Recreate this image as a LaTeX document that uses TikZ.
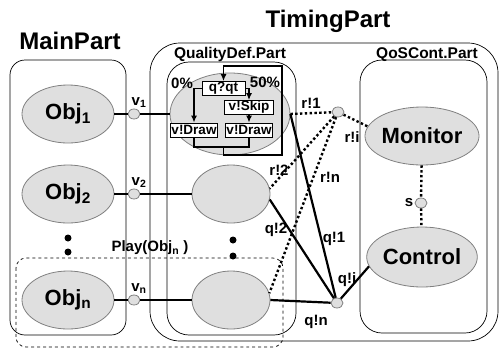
\documentclass[tikz,border=0pt]{standalone}
\usepackage{fontspec}
\setmainfont{Liberation Sans}
\usetikzlibrary{shapes.geometric, arrows.meta, positioning}
\newcommand{\fsz}[1]{\fontsize{#1}{#1}\selectfont\bfseries}

\begin{document}
\begin{tikzpicture}[
        x=1bp, y=-1bp,
        partbox/.style={draw, line width=0.7bp, rounded corners=#1},
        obj/.style={ellipse, draw=gray, fill=gray!25, line width=0.8bp, minimum width=92bp, minimum height=58bp, inner sep=0pt, font=\fsz{22bp}},
        subobj/.style={obj, minimum width=78bp, minimum height=58bp},
        port/.style={ellipse, draw=gray, fill=gray!25, line width=0.8bp, minimum width=12bp, minimum height=10bp, inner sep=0pt},
        act/.style={draw, fill=white, line width=0.8bp, minimum height=14bp, inner sep=0pt, font=\fsz{13.5bp}},
        lbl/.style={inner sep=0pt, font=\fsz{15bp}},
        title/.style={inner sep=0pt, anchor=base, font=\fsz{24bp}},
        plabel/.style={inner sep=0pt, anchor=base, font=\fsz{15.5bp}},
        wire/.style={line width=2.2bp},
        msg/.style={line width=2.4bp, dash pattern=on 2.4bp off 2.4bp},
        flow/.style={line width=1.4bp, -{Latex[length=7bp,width=6bp]}},
        bigdot/.style={circle, fill=black, inner sep=0pt, minimum size=7bp}
    ]
        \useasboundingbox (0,0) rectangle (501,349);

        \draw[partbox=15bp] (10,60) rectangle (126,335);
        \draw[partbox=30bp] (150,43) rectangle (498,341);
        \draw[partbox=22bp] (167,62) rectangle (296,335);
        \draw[partbox=22bp] (360,60) rectangle (487,333);
        \draw[line width=0.7bp, dashed, rounded corners=10bp] (16,258) rectangle (283,347);

        \node[title] (mainT) at (70,49) {MainPart};
        \node[title] (timT) at (328,27) {TimingPart};
        \node[plabel] (qdT) at (230,58) {QualityDef.Part};
        \node[plabel] (qosT) at (427,58) {QoSCont.Part};

        \node[obj] (obj1) at (68,114) {Obj\textsubscript{1}};
        \node[obj] (obj2) at (68,194) {Obj\textsubscript{2}};
        \node[obj] (objn) at (68,300) {Obj\textsubscript{n}};
        \node[bigdot] (od1) at (68,238) {};
        \node[bigdot] (od2) at (68,252) {};

        \node[port] (v1) at (134,114) {};
        \node[port] (v2) at (134,194) {};
        \node[port] (vn) at (134,300) {};
        \node[lbl, anchor=base] (v1l) at (139,105) {v\textsubscript{1}};
        \node[lbl, anchor=base] (v2l) at (139,185) {v\textsubscript{2}};
        \node[lbl, anchor=base] (vnl) at (139,291) {v\textsubscript{n}};
        \node[lbl] (play) at (150,248) {Play(Obj\textsubscript{n} )};

        \node[obj, minimum width=120bp, minimum height=82bp] (qd1) at (230,114) {};
        \node[subobj] (qd2) at (231,194) {};
        \node[subobj] (qdn) at (231,300) {};
        \node[bigdot] (qdd1) at (233,240) {};
        \node[bigdot] (qdd2) at (233,256) {};

        \draw[wire] (obj1) -- (v1) (v1) -- (qd1);
        \draw[wire] (obj2) -- (v2) (v2) -- (qd2);
        \draw[wire] (objn) -- (vn) (vn) -- (qdn);

        \node[act, minimum width=43bp] (qqt) at (223.5,88.5) {q?qt};
        \node[act, minimum width=49bp] (skip) at (249,107.5) {v!Skip};
        \node[act, minimum width=47bp] (drawL) at (194,130) {v!Draw};
        \node[act, minimum width=47bp] (drawR) at (249,130) {v!Draw};
        \node[lbl] (p0) at (182,83) {0\%};
        \node[lbl] (p50) at (265,82) {50\%};

        \coordinate (jn) at (223.5,147);
        \coordinate (lpA) at (223.5,155);
        \coordinate (lpB) at (282,155);
        \coordinate (lpC) at (282,66);
        \coordinate (lpD) at (223.5,66);
        \draw[flow] (qqt.west) -| (drawL.north);
        \draw[flow] (qqt.east) -| (skip.north);
        \draw[flow] (skip) -- (drawR);
        \draw[line width=1.4bp] (drawL.south) |- (jn) -| (drawR.south);
        \draw[flow] (jn) -- (lpA) -- (lpB) -- (lpC) -- (lpD) -- (qqt.north);

        \node[port] (rp) at (338,112) {};
        \node[port] (qp) at (337,303) {};
        \node[obj, minimum width=110bp, minimum height=58bp] (mon) at (422,136) {Monitor};
        \node[obj, minimum width=110bp, minimum height=60bp] (ctl) at (422,257) {Control};
        \node[port] (sp) at (421,203) {};
        \node[lbl] (sl) at (409,203) {s};

        \draw[msg] (qd1.east) -- node[lbl, pos=0.5, above=3bp] {r!1} (rp);
        \draw[msg] (rp) -- (mon.170);
        \draw[msg] (rp) -- (qd2.8);
        \draw[msg] (rp) -- (qdn.10);
        \draw[msg] (mon) -- (sp);
        \draw[msg] (sp) -- (ctl);
        \draw[wire] (qd1.east) -- (qp);
        \draw[wire] (qd2.-8) -- (qp);
        \draw[wire] (qdn.east) -- (qp);
        \draw[wire] (qp) -- (ctl.190);

        \node[lbl] (ril) at (352,137) {r!i};
        \node[lbl] (r2l) at (279,170) {r!2};
        \node[lbl] (rnl) at (330,177) {r!n};
        \node[lbl] (q1l) at (334,239) {q!1};
        \node[lbl] (q2l) at (276,230) {q!2};
        \node[lbl] (qnl) at (316,322) {q!n};
        \node[lbl] (qil) at (347,280) {q!i};
    \end{tikzpicture}
\end{document}
